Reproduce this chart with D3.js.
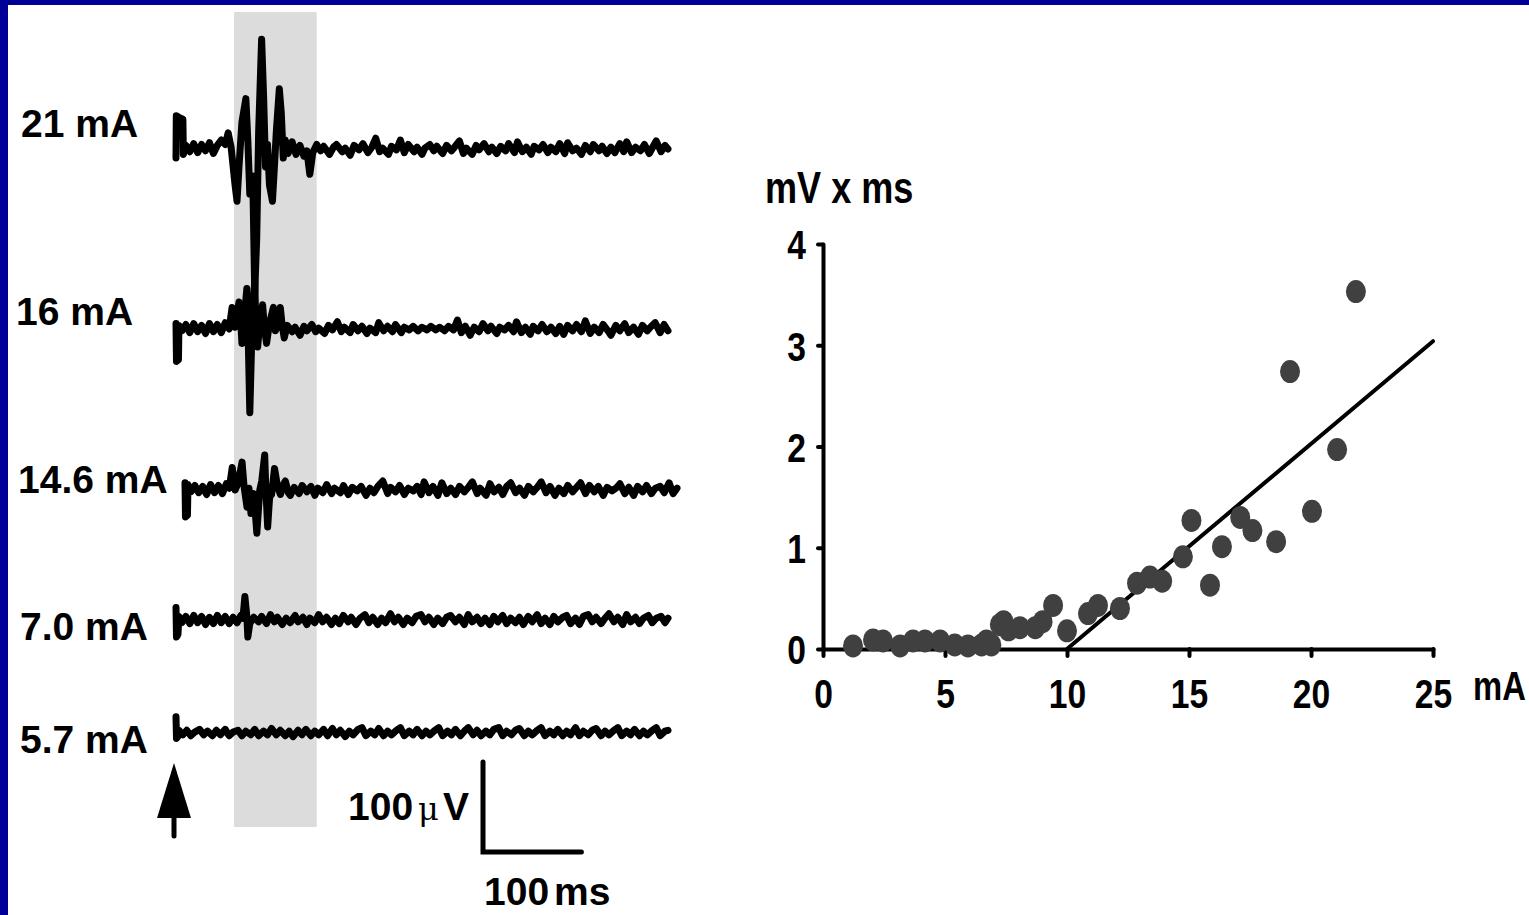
<!DOCTYPE html>
<html><head><meta charset="utf-8">
<script src="https://cdn.jsdelivr.net/npm/d3@7"></script>
<style>
body{margin:0;background:#fff;}
svg{display:block;}
</style>
</head><body>
<svg id="c" width="1529" height="915"></svg>
<script>
// ---------- DATA ----------
// scatter: stimulus current (mA) vs response area (mV x ms)
const currents = [1.23,2.05,2.46,3.16,3.69,4.18,4.8,5.4,5.94,6.5,6.7,6.9,7.25,7.4,7.6,8.07,8.7,9.0,9.43,10.0,10.86,11.27,12.17,12.87,13.4,13.9,14.75,15.1,15.86,16.35,17.1,17.6,18.57,19.14,20.04,21.07,21.84];
const areas    = [0.03,0.09,0.08,0.03,0.08,0.08,0.08,0.04,0.03,0.04,0.08,0.04,0.24,0.27,0.19,0.21,0.21,0.27,0.43,0.18,0.35,0.43,0.40,0.65,0.71,0.67,0.91,1.27,0.63,1.01,1.30,1.17,1.06,2.74,1.36,1.97,3.53];
const fitX = [10, 25];
const fitY = [0, 3.04];
const xTicks = [0,5,10,15,20,25];
const yTicks = [0,1,2,3,4];
const yLabel = "mV x ms";
const xLabel = "mA";

// EMG traces: [time ms, amplitude µV]
const traceLabels = ["21 mA","16 mA","14.6 mA","7.0 mA","5.7 mA"];
const trace21 = [[0,-10],[0.3,37],[3,35],[7,33],[7.5,-6],[10,4],[14,-3],[18,6],[22,-4],[26,5],[30,-2],[34,7],[38,-5],[42,4],[46,10],[50,5],[53,18],[56,2],[60,-40],[62,-58],[64,-20],[67,30],[71,56],[73,10],[75,-50],[78,-30],[80,-160],[82,-100],[84,20],[87,122],[89,60],[91,-20],[93,5],[95,-40],[98,-58],[100,-20],[102,20],[105,67],[107,40],[109,-10],[111,10],[114,-5],[118,8],[122,-6],[126,4],[130,-8],[133,-2],[136,-28],[139,-4],[143,5],[147,-2],[150,3],[156,-6],[160,2],[163,5],[169,-3],[172,1],[177,-7],[181,4],[186,-1],[190,6],[195,-4],[199,2],[203,12],[207,-3],[210,1],[216,-6],[219,3],[224,-1],[228,10],[232,-4],[236,5],[242,-3],[245,2],[250,-6],[253,1],[258,5],[262,-2],[265,3],[271,-5],[275,4],[280,-2],[283,2],[288,9],[292,-5],[295,1],[301,-6],[305,4],[308,-1],[313,6],[318,-3],[321,2],[326,-5],[330,3],[335,-2],[338,6],[344,-4],[347,8],[352,-3],[356,2],[361,-6],[364,3],[369,-1],[373,5],[378,-4],[381,2],[386,-3],[390,6],[395,-5],[398,7],[403,-2],[407,1],[412,-6],[416,4],[421,-3],[424,5],[430,-2],[433,3],[438,-5],[442,2],[446,-4],[451,6],[455,-3],[458,8],[463,-4],[467,2],[472,-2],[476,5],[481,-5],[485,3],[488,9],[493,-3],[497,4],[500,0]];
const trace16 = [[0,6],[0.5,-36],[2.5,-34],[3,4],[6,-2],[10,5],[14,-4],[18,6],[22,-3],[26,4],[30,-5],[34,6],[38,-3],[42,5],[46,-4],[50,7],[54,0],[57,24],[60,2],[64,30],[66,5],[67,-16],[69,8],[72,45],[73,10],[75,-93],[77,-10],[80,54],[81,10],[83,-20],[85,5],[88,27],[90,0],[92,-16],[95,6],[99,24],[101,-2],[104,5],[106,24],[108,3],[110,-10],[113,4],[118,-3],[121,2],[126,-7],[130,3],[133,-2],[138,5],[142,-3],[145,1],[151,-5],[155,4],[159,-1],[164,8],[168,-3],[171,2],[177,-4],[180,5],[185,-2],[189,3],[194,-5],[197,1],[203,-4],[206,7],[211,-2],[215,3],[220,-3],[223,5],[229,-4],[232,2],[237,-1],[241,3],[246,-2],[250,2],[255,-1],[259,3],[264,-1],[268,2],[273,-2],[277,3],[282,-1],[286,10],[290,-4],[294,3],[299,-7],[303,2],[308,-3],[312,6],[317,-2],[320,3],[326,-5],[329,2],[334,-1],[338,4],[343,-3],[346,8],[351,-4],[355,2],[360,-6],[363,3],[368,-2],[372,5],[377,-3],[381,2],[386,-5],[390,3],[394,-6],[398,4],[403,-2],[407,5],[412,-3],[416,9],[421,-5],[425,2],[430,-4],[434,5],[439,-2],[442,-7],[447,4],[451,-2],[456,6],[460,-4],[465,2],[470,-6],[474,4],[479,-2],[483,3],[487,7],[492,-4],[496,5],[500,-2]];
const trace14 = [[0,8],[0.5,-30],[2.5,-28],[3,6],[6,-2],[10,5],[14,-3],[18,4],[22,-5],[26,6],[30,-3],[34,5],[38,-4],[42,7],[45,2],[48,25],[51,0],[54,8],[58,31],[60,4],[63,-19],[65,2],[67,-26],[70,-4],[73,-48],[76,0],[78,10],[81,39],[82,5],[84,-41],[86,-8],[88,-5],[91,24],[94,4],[97,-5],[100,6],[102,10],[105,-3],[107,-6],[111,3],[116,-4],[119,5],[124,-2],[128,4],[132,-6],[135,2],[140,-3],[144,6],[149,-4],[152,2],[158,-3],[161,5],[166,-5],[170,3],[175,-1],[179,4],[184,-6],[188,2],[192,-3],[196,4],[201,10],[206,-4],[209,3],[214,-2],[218,5],[223,-5],[227,2],[232,-1],[236,4],[240,-5],[243,9],[248,-3],[252,4],[257,-6],[261,8],[266,-4],[270,2],[275,-5],[279,4],[284,-2],[288,3],[292,9],[297,-4],[300,2],[306,-6],[310,7],[314,-2],[319,3],[323,-5],[327,4],[331,8],[336,-3],[340,2],[345,-6],[349,4],[354,-2],[358,3],[362,9],[367,-3],[371,4],[376,-6],[380,2],[385,-4],[389,5],[394,-2],[398,3],[402,8],[407,-4],[411,5],[416,-2],[420,4],[425,-6],[429,3],[434,-1],[438,2],[442,7],[447,-4],[451,3],[456,-6],[460,4],[465,-2],[469,5],[474,-4],[478,2],[483,4],[487,-3],[492,8],[496,-4],[500,2]];
const trace7 = [[0,14],[0.5,-19],[2,-16],[3,4],[6,-3],[10,4],[14,-4],[18,5],[22,-3],[26,4],[30,-5],[34,3],[38,-4],[42,5],[46,-3],[50,4],[54,-4],[58,3],[62,-3],[66,5],[68,2],[70,26],[72,4],[73,-19],[75,-4],[79,3],[84,-2],[87,4],[92,-4],[96,6],[100,-2],[103,3],[108,-5],[112,2],[116,-3],[121,5],[124,-2],[129,3],[133,-5],[136,2],[141,-3],[145,6],[149,-2],[153,3],[158,-5],[162,2],[166,-4],[170,5],[175,-2],[178,3],[183,-5],[187,2],[192,6],[196,-3],[200,3],[205,-5],[209,2],[213,-3],[218,7],[222,-2],[226,3],[231,-5],[235,2],[240,-3],[244,4],[249,6],[253,-2],[257,3],[262,-5],[266,2],[271,-4],[275,3],[279,5],[284,-2],[288,3],[293,-5],[297,6],[301,-2],[306,3],[310,-4],[314,2],[319,-5],[323,4],[327,-2],[332,5],[336,-4],[340,2],[345,-3],[349,3],[353,-5],[358,4],[362,-2],[367,6],[371,-4],[375,2],[380,-5],[384,4],[388,-2],[393,3],[397,5],[401,-4],[406,2],[410,-5],[414,4],[419,6],[423,-2],[427,3],[432,-4],[436,2],[440,7],[445,-2],[449,3],[454,-5],[458,6],[462,-2],[467,3],[471,-4],[475,2],[480,5],[484,-3],[488,2],[493,4],[497,-3],[500,2]];
const trace5 = [[0,18],[0.5,-6],[2,-4],[3,3],[7,-2],[11,3],[15,-3],[19,1],[24,4],[28,-2],[32,2],[37,-3],[41,3],[45,-2],[50,4],[54,-3],[58,1],[63,3],[67,-3],[71,2],[76,-2],[80,4],[84,-3],[89,2],[93,-2],[97,5],[102,-2],[106,3],[111,-3],[115,2],[119,-4],[124,3],[128,-2],[132,4],[137,-3],[141,2],[145,-2],[150,4],[154,-3],[159,5],[163,-2],[167,3],[172,-4],[176,2],[180,-2],[185,4],[189,6],[193,-3],[198,2],[202,-2],[206,5],[211,-3],[215,2],[219,-2],[224,3],[228,6],[232,-3],[237,2],[241,-2],[245,4],[250,-3],[254,2],[258,-2],[263,3],[267,6],[271,-3],[276,2],[280,-2],[284,4],[289,-3],[293,2],[297,6],[302,-2],[306,3],[310,-3],[315,2],[319,-2],[323,4],[328,6],[332,-3],[336,2],[341,-2],[345,3],[349,5],[354,-3],[358,2],[362,-2],[367,3],[371,6],[375,-3],[380,2],[384,-2],[388,4],[393,-3],[397,2],[401,-2],[406,6],[410,-3],[414,2],[419,-2],[423,3],[427,5],[432,-3],[436,2],[440,-2],[445,3],[449,6],[453,-3],[458,2],[462,-2],[466,4],[471,-3],[475,2],[479,-2],[484,3],[488,6],[492,-3],[497,2],[500,3]];
const traces = [trace21, trace16, trace14, trace7, trace5];
const analysisWindow = [59, 143];   // shaded window, ms after stimulus
const scaleTime = 100;              // ms
const scaleVolt = 100;              // µV

// ---------- LAYOUT ----------
const W = 1529, H = 915;
const svg = d3.select("#c");
const LBL = "'Liberation Sans', Arial, Helvetica, sans-serif";
const NARROW = 0.82;   // horizontal squeeze to imitate a narrow bold face

svg.append("rect").attr("width", W).attr("height", H).attr("fill", "#fff");
// blue frame (left and top)
svg.append("rect").attr("x",0).attr("y",0).attr("width",8).attr("height",H).attr("fill","#000099");
svg.append("rect").attr("x",0).attr("y",0).attr("width",W).attr("height",5).attr("fill","#000099");

// ---------- LEFT PANEL: traces ----------
const traceBase = [149, 329, 490, 620, 733];     // baseline y of each trace
const traceX0   = [176, 176, 185, 176, 176];     // x of stimulus for each trace
const labelPos  = [[21,137],[16,325],[18,493],[20,640],[20,753]];
const pxPerMs = 0.984, pxPerUV = 0.9;

// shaded window
const tRef = d3.scaleLinear().domain([0, 500]).range([176, 176 + 500*pxPerMs]);
svg.append("rect")
  .attr("x", tRef(analysisWindow[0])).attr("y", 12)
  .attr("width", tRef(analysisWindow[1]) - tRef(analysisWindow[0]))
  .attr("height", 827 - 12)
  .attr("fill", "#dcdcdc");

traces.forEach((tr, i) => {
  const xs = d3.scaleLinear().domain([0, 500]).range([traceX0[i], traceX0[i] + 500*pxPerMs]);
  const ys = d3.scaleLinear().domain([-100, 100]).range([traceBase[i] + 100*pxPerUV, traceBase[i] - 100*pxPerUV]);
  const line = d3.line().x(d => xs(d[0])).y(d => ys(d[1]));
  svg.append("path").datum(tr).attr("d", line)
    .attr("fill", "none").attr("stroke", "#000").attr("stroke-width", 7)
    .attr("stroke-linejoin", "round").attr("stroke-linecap", "round");
  svg.append("text").attr("x", labelPos[i][0]).attr("y", labelPos[i][1])
    .attr("font-family", LBL).attr("font-weight", "bold").attr("font-size", 39)
    .attr("fill", "#000").text(traceLabels[i]);
});

// stimulus arrow
const ar = svg.append("g");
ar.append("line").attr("x1",174).attr("x2",174).attr("y1",812).attr("y2",836)
  .attr("stroke","#000").attr("stroke-width",5).attr("stroke-linecap","round");
ar.append("path").attr("d","M174,763 L191,818 L157,818 Z").attr("fill","#000");

// scale bar
const sbX = 483, sbY = 852;
svg.append("path")
  .attr("d", `M${sbX},${sbY - scaleVolt*pxPerUV} L${sbX},${sbY} L${sbX + scaleTime*pxPerMs},${sbY}`)
  .attr("fill","none").attr("stroke","#000").attr("stroke-width",5)
  .attr("stroke-linecap","round").attr("stroke-linejoin","miter");
const tV = svg.append("text").attr("x",348).attr("y",820)
  .attr("font-family", LBL).attr("font-size", 39).attr("fill","#000");
tV.append("tspan").attr("font-weight","bold").text("100");
tV.append("tspan").attr("dx",5).attr("font-family","'DejaVu Serif', serif").attr("font-size",32).text("\u03BC");
tV.append("tspan").attr("dx",4).attr("font-weight","bold").text("V");
const tT = svg.append("text").attr("x",484).attr("y",905)
  .attr("font-family", LBL).attr("font-size", 39).attr("font-weight","bold").attr("fill","#000");
tT.append("tspan").text("100");
tT.append("tspan").attr("dx",5).text("ms");

// ---------- RIGHT PANEL: scatter ----------
const x = d3.scaleLinear().domain([0, 25]).range([823, 1433]);
const y = d3.scaleLinear().domain([0, 4]).range([649, 244]);

const gx = svg.append("g").attr("transform", `translate(0,${y(0)})`)
  .call(d3.axisBottom(x).tickValues(xTicks).tickFormat(d3.format("d")).tickSize(7).tickSizeOuter(0).tickPadding(23));
const gy = svg.append("g").attr("transform", `translate(${x(0)},0)`)
  .call(d3.axisLeft(y).tickValues(yTicks).tickFormat(d3.format("d")).tickSize(5).tickSizeOuter(0).tickPadding(12));
[gx, gy].forEach(g => {
  g.select(".domain").attr("stroke","#000").attr("stroke-width",4).attr("stroke-linecap","round");
  g.selectAll(".tick line").attr("stroke","#000").attr("stroke-width",4).attr("stroke-linecap","round");
  g.selectAll(".tick text").attr("fill","#000").attr("font-family", LBL)
    .attr("font-weight","bold").attr("font-size", 41)
    .attr("transform", `scale(${NARROW},1)`);
});
gx.selectAll(".tick text").attr("dy","0.7em");
gy.selectAll(".tick text").attr("dy","0.36em").attr("x", -17 / NARROW);

// fit line
svg.append("line")
  .attr("x1", x(fitX[0])).attr("y1", y(fitY[0]))
  .attr("x2", x(fitX[1])).attr("y2", y(fitY[1]))
  .attr("stroke","#000").attr("stroke-width",4).attr("stroke-linecap","round");

// points
svg.append("g").selectAll("ellipse").data(currents.map((c, i) => [c, areas[i]]))
  .join("ellipse")
  .attr("cx", d => x(d[0])).attr("cy", d => y(d[1]))
  .attr("rx", 10).attr("ry", 11.5).attr("fill", "#404040");

// axis titles
svg.append("text").attr("transform", `translate(765,203) scale(${NARROW},1)`)
  .attr("font-family", LBL).attr("font-weight","bold").attr("font-size",44)
  .attr("fill","#000").text(yLabel);
svg.append("text").attr("transform", `translate(1473,700) scale(${NARROW},1)`)
  .attr("font-family", LBL).attr("font-weight","bold").attr("font-size",40)
  .attr("fill","#000").text(xLabel);
</script>
</body></html>
